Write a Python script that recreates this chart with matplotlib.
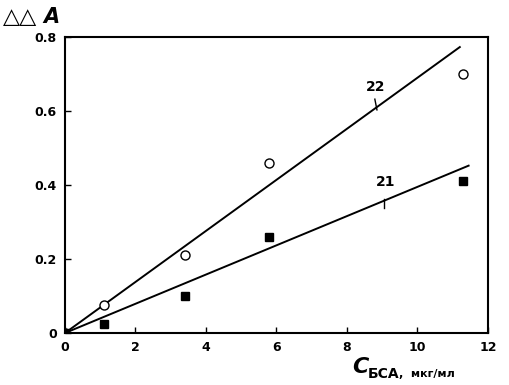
import numpy as np
import matplotlib
matplotlib.use('Agg')
import matplotlib.pyplot as plt

# concentration, мкг/мл
conc = [0, 1.1, 3.4, 5.8, 11.3]
dA_22 = [0, 0.075, 0.21, 0.46, 0.70]
dA_21 = [0, 0.025, 0.10, 0.26, 0.41]

# drawn straight lines through origin
line_x_end = [11.2, 11.45]
line_slopes = [0.069, 0.0395]
line_names = ['22', '21']

fig = plt.figure(figsize=(5.1, 3.85), dpi=100)
ax = fig.add_axes([65/510, 1-333/385, (488-65)/510, (333-37)/385])

for xe, k in zip(line_x_end, line_slopes):
    xs = np.array([0, xe])
    ax.plot(xs, k*xs, color='k', lw=1.4, zorder=2)

ax.plot(conc, dA_22, 'o', mfc='white', mec='k', mew=1.0, ms=6.5, zorder=3)
ax.plot(conc, dA_21, 's', mfc='k', mec='k', ms=5.5, zorder=4)

# curve labels with leader ticks
ax.text(8.82, 0.645, line_names[0], fontsize=10, fontweight='bold', ha='center', va='bottom')
ax.plot([8.79, 8.85], [0.632, 0.603], color='k', lw=1)
ax.text(9.1, 0.388, line_names[1], fontsize=10, fontweight='bold', ha='center', va='bottom')
ax.plot([9.05, 9.05], [0.362, 0.338], color='k', lw=1)

ax.set_xlim(0, 12)
ax.set_ylim(0, 0.8)
ax.set_xticks([0, 2, 4, 6, 8, 10, 12])
ax.set_xticklabels(['0', '2', '4', '6', '8', '10', '12'])
ax.set_yticks([0, 0.2, 0.4, 0.6, 0.8])
ax.set_yticklabels(['0', '0.2', '0.4', '0.6', '0.8'])
ax.tick_params(direction='in', length=4, width=1, labelsize=9, pad=6)
for lab in ax.get_xticklabels() + ax.get_yticklabels():
    lab.set_fontweight('bold')
for sp in ax.spines.values():
    sp.set_linewidth(1.5)

# axis titles
fig.text(3/510, 1-23/385, '\u25b3\u25b3', fontsize=16, ha='left', va='baseline')
fig.text(43/510, 1-23/385, 'A', fontsize=15, fontweight='bold', style='italic',
         ha='left', va='baseline')
fig.text(352/510, 1-373/385, 'C', fontsize=16, style='italic', fontweight='bold',
         ha='left', va='baseline')
fig.text(368/510, 1-378/385, 'БСА', fontsize=10, fontweight='bold',
         ha='left', va='baseline')
fig.text(399/510, 1-377/385, ',  мкг/мл', fontsize=8, fontweight='bold',
         ha='left', va='baseline')

fig.savefig('out.png', dpi=100)
